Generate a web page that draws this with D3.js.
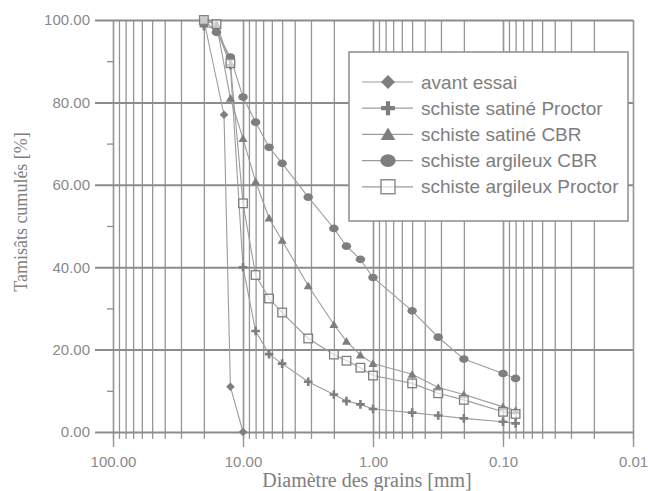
<!DOCTYPE html>
<html>
<head>
<meta charset="utf-8">
<script src="https://cdn.jsdelivr.net/npm/d3@7"></script>
<style>
  html, body { margin: 0; padding: 0; background: #fff; }
  svg { display: block; }
  text { font-family: "Liberation Sans", Arial, sans-serif; }
  text.serif { font-family: "Liberation Serif", "Times New Roman", serif; }
</style>
</head>
<body>
<svg id="chart" width="648" height="491"></svg>
<script>
// Sieve openings (mm) and cumulative passing (%) for each sample
const sieveFull = [20, 16, 12.5, 10, 8, 6.3, 5, 3.15, 2, 1.6, 1.25, 1, 0.5, 0.315, 0.2, 0.1, 0.08];

const avantEssaiD = [20, 14, 12.5, 10];
const avantEssaiP = [100, 77, 11, 0];

const satineProctorP = [98.5, 98, 89, 40, 24.5, 18.9, 16.6, 12.2, 9.1, 7.5, 6.7, 5.6, 4.7, 4.0, 3.3, 2.5, 2.1];
const satineCbrP     = [100, 99, 81, 71.2, 60.8, 51.9, 46.5, 35.5, 26.1, 22, 18.7, 16.6, 14, 10.8, 9.1, 6.1, 5.2];
const argileuxCbrP   = [100, 97, 91, 81.3, 75.2, 69.1, 65.2, 57, 49.4, 45.1, 41.9, 37.5, 29.4, 23, 17.7, 14.2, 13];
const argileuxProctorP = [100, 99, 89.5, 55.5, 38.1, 32.4, 29, 22.7, 18.8, 17.3, 15.6, 13.7, 11.8, 9.4, 7.8, 4.9, 4.4];

const seriesNames = [
  "avant essai",
  "schiste satiné Proctor",
  "schiste satiné CBR",
  "schiste argileux CBR",
  "schiste argileux Proctor"
];
const seriesMarkers = ["diamond", "cross", "triangle", "ellipse", "square"];

const xTicks = [100, 10, 1, 0.1, 0.01];
const yTicks = [0, 20, 40, 60, 80, 100];
const yMinorTicks = [10, 30, 50, 70, 90];

const xTitle = "Diamètre des grains [mm]";
const yTitle = "Tamisâts cumulés [%]";

const series = [
  { name: seriesNames[0], marker: seriesMarkers[0], d: avantEssaiD, p: avantEssaiP },
  { name: seriesNames[1], marker: seriesMarkers[1], d: sieveFull, p: satineProctorP },
  { name: seriesNames[2], marker: seriesMarkers[2], d: sieveFull, p: satineCbrP },
  { name: seriesNames[3], marker: seriesMarkers[3], d: sieveFull, p: argileuxCbrP },
  { name: seriesNames[4], marker: seriesMarkers[4], d: sieveFull, p: argileuxProctorP }
];

// Layout
const L = 113, R = 633, T = 20, B = 432;
const gridCol = "#969696", majorCol = "#8c8c8c", ink = "#7e7e7e", lineCol = "#9c9c9c";

const svg = d3.select("#chart");

const x = d3.scaleLog().domain([100, 0.01]).range([L, R]);
const y = d3.scaleLinear().domain([0, 100]).range([B, T]);

// Log minor gridlines: 1..9 x 10^k within the domain
const xMinor = [];
for (let k = -2; k <= 1; k++) for (let m = 1; m <= 9; m++) xMinor.push(m * Math.pow(10, k));
xMinor.push(100);

const gx = svg.append("g")
  .attr("transform", `translate(0,${B + 7})`)
  .call(d3.axisBottom(x).tickValues(xMinor).tickSize(-(B + 7 - T)).tickFormat(""));
gx.select(".domain").remove();
gx.selectAll(".tick line").attr("stroke", gridCol).attr("stroke-width", 1.3);

const gxMajor = svg.append("g")
  .attr("transform", `translate(0,${B + 15})`)
  .call(d3.axisBottom(x).tickValues(xTicks).tickSize(-(B + 15 - T)).tickPadding(9)
    .tickFormat(d3.format(".2f")));
gxMajor.select(".domain").remove();
gxMajor.selectAll(".tick line").attr("stroke", gridCol).attr("stroke-width", 1.4);
gxMajor.selectAll(".tick text").attr("font-size", 15).attr("fill", "#8a8a8a");

// Horizontal gridlines with labels on the left
const gy = svg.append("g")
  .attr("transform", `translate(${R},0)`)
  .call(d3.axisLeft(y).tickValues(yTicks).tickSize(R - 95).tickPadding(5)
    .tickFormat(d3.format(".2f")));
gy.select(".domain").remove();
gy.selectAll(".tick line").attr("stroke", majorCol).attr("stroke-width", 2);
gy.selectAll(".tick text").attr("font-size", 15).attr("fill", "#8a8a8a");

const gyMinor = svg.append("g")
  .attr("transform", `translate(${L},0)`)
  .call(d3.axisLeft(y).tickValues(yMinorTicks).tickSize(6).tickFormat(""));
gyMinor.select(".domain").remove();
gyMinor.selectAll(".tick line").attr("stroke", majorCol).attr("stroke-width", 1.3);

// Marker drawing
function drawMarker(g, type, s, fill) {
  if (type === "diamond") {
    g.append("path").attr("d", `M0,${-s}L${s},0L0,${s}L${-s},0Z`).attr("fill", fill);
  } else if (type === "cross") {
    const w = s * 0.3;
    g.append("path")
      .attr("d", `M${-w},${-s}H${w}V${-w}H${s}V${w}H${w}V${s}H${-w}V${w}H${-s}V${-w}H${-w}Z`)
      .attr("fill", fill);
  } else if (type === "triangle") {
    g.append("path").attr("d", `M0,${-s}L${s * 1.05},${s * 0.8}L${-s * 1.05},${s * 0.8}Z`).attr("fill", fill);
  } else if (type === "ellipse") {
    g.append("ellipse").attr("rx", s * 1.1).attr("ry", s * 0.9).attr("fill", fill);
  } else if (type === "square") {
    g.append("rect").attr("x", -s).attr("y", -s).attr("width", 2 * s).attr("height", 2 * s)
      .attr("fill", "#fff").attr("fill-opacity", 0.6).attr("stroke", fill).attr("stroke-width", 1.3);
  }
}

const line = d3.line().x(d => x(d[0])).y(d => y(d[1]));

series.forEach(s => {
  const pts = s.d.map((d, i) => [d, s.p[i]]);
  svg.append("path").datum(pts).attr("d", line)
    .attr("fill", "none").attr("stroke", lineCol).attr("stroke-width", 1.1);
});
series.forEach(s => {
  const pts = s.d.map((d, i) => [d, s.p[i]]);
  pts.forEach(p => {
    const g = svg.append("g").attr("transform", `translate(${x(p[0])},${y(p[1])})`);
    drawMarker(g, s.marker, 4.3, ink);
  });
});

// Legend
const lg = svg.append("g");
lg.append("rect").attr("x", 349).attr("y", 52).attr("width", 279).attr("height", 169)
  .attr("fill", "#fff").attr("stroke", majorCol).attr("stroke-width", 1.5);
series.forEach((s, i) => {
  const cy = 82 + i * 26.2;
  lg.append("line").attr("x1", 362).attr("x2", 413).attr("y1", cy).attr("y2", cy)
    .attr("stroke", lineCol).attr("stroke-width", 1.2);
  const g = lg.append("g").attr("transform", `translate(388,${cy})`);
  drawMarker(g, s.marker, 7, ink);
  lg.append("text").attr("x", 421).attr("y", cy).attr("dy", "0.35em")
    .attr("font-size", 19).attr("fill", ink).text(s.name);
});

// Axis titles
svg.append("text").attr("class", "serif").attr("x", 367).attr("y", 487)
  .attr("text-anchor", "middle").attr("font-size", 20)
  .attr("fill", ink).text(xTitle);
svg.append("text").attr("class", "serif").attr("transform", "translate(27,212) rotate(-90)")
  .attr("text-anchor", "middle").attr("font-size", 18)
  .attr("fill", ink).text(yTitle);
</script>
</body>
</html>
